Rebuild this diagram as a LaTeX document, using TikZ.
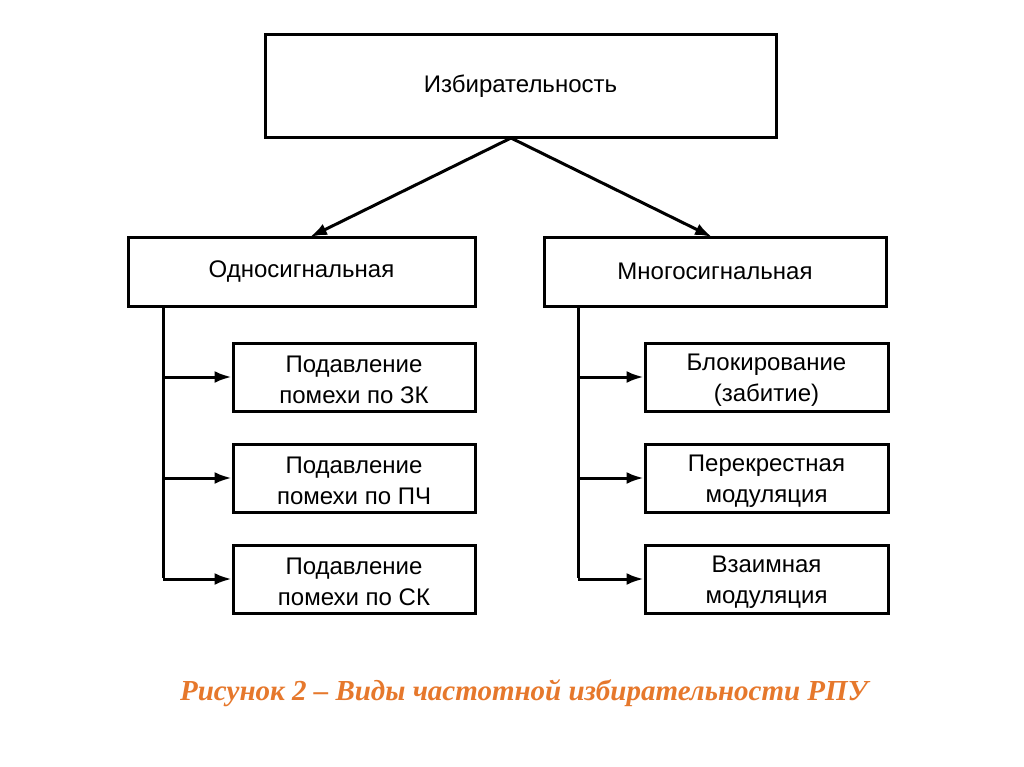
\documentclass[tikz,border=0pt]{standalone}
\usepackage{fontspec}
\setmainfont{Liberation Sans}
\newfontfamily\capfont{Liberation Serif}
\usetikzlibrary{arrows.meta}
\definecolor{capcol}{RGB}{230,120,44}
\tikzset{
  box/.style={draw, line width=3pt, minimum width=#1, inner sep=0pt, align=center, font=\fontsize{24}{31}\selectfont},
  lbl/.style={align=center, inner sep=0pt, yshift=-3pt, font=\fontsize{24}{31}\selectfont},
  conn/.style={line width=3pt, -{Latex[length=17pt,width=12pt]}},
  plain/.style={line width=3pt}
}
\begin{document}
\begin{tikzpicture}[x=1pt,y=-1pt]
\useasboundingbox (0,0) rectangle (1024,767);
\fill[white] (0,0) rectangle (1024,767);
\node[box=511pt, minimum height=103pt] (top) at (520.5,86.5) {Избирательность};
\node[box=347pt, minimum height=69pt] (L) at (301.5,271.5) {Односигнальная};
\node[box=342pt, minimum height=69pt] (R) at (715,271.5) {Многосигнальная};
\node[box=242pt, minimum height=68pt, label={[lbl]center:{Подавление\\помехи по ЗК}}] (L1) at (354,377) {};
\node[box=242pt, minimum height=68pt, label={[lbl]center:{Подавление\\помехи по ПЧ}}] (L2) at (354,478) {};
\node[box=242pt, minimum height=68pt, label={[lbl]center:{Подавление\\помехи по СК}}] (L3) at (354,579) {};
\node[box=243pt, minimum height=68pt, label={[lbl]center:{Блокирование\\(забитие)}}] (R1) at (766.5,377) {};
\node[box=243pt, minimum height=68pt, label={[lbl]center:{Перекрестная\\модуляция}}] (R2) at (766.5,478) {};
\node[box=243pt, minimum height=68pt, label={[lbl]center:{Взаимная\\модуляция}}] (R3) at (766.5,579) {};
\coordinate (tb) at (511,138);
\coordinate (la) at (310,237);
\coordinate (ra) at (712,237);
\draw[conn] (tb) -- (la);
\draw[conn] (tb) -- (ra);
\coordinate (lt) at (163,306);
\coordinate (rt) at (578,306);
\draw[plain] (lt) -- (163,578);
\draw[plain] (rt) -- (578,578);
\foreach \n in {L1,L2,L3}{\draw[conn] (163,0 |- \n.west) -- (\n.west);}
\foreach \n in {R1,R2,R3}{\draw[conn] (578,0 |- \n.west) -- (\n.west);}
\node[font=\capfont\bfseries\itshape\fontsize{29}{34}\selectfont, text=capcol] (cap) at (524,693) {Рисунок 2 – Виды частотной избирательности РПУ};
\end{tikzpicture}
\end{document}
